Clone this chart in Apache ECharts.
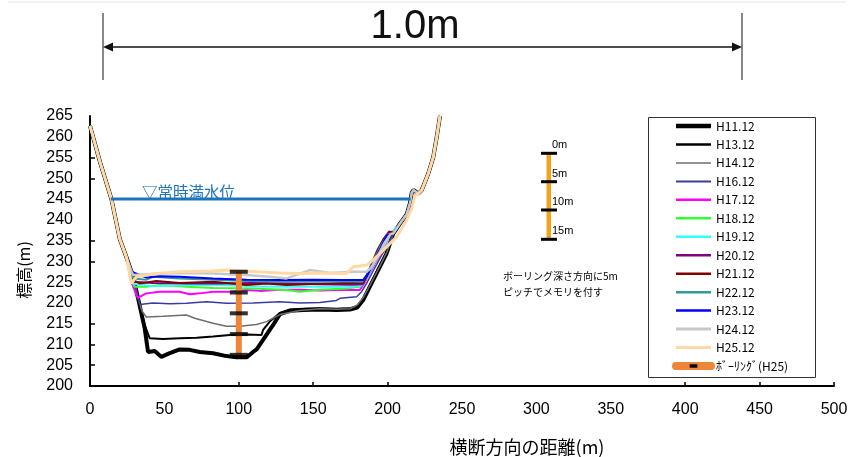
<!DOCTYPE html>
<html>
<head>
<meta charset="utf-8">
<script src="https://cdn.jsdelivr.net/npm/echarts@6/dist/echarts.min.js"></script>
<style>
  html, body { margin: 0; padding: 0; background: #fff; }
  #chart { width: 854px; height: 457px; }
</style>
</head>
<body>
<div id="chart"></div>
<script>
// Cross-section survey: distance across the channel (m) vs. elevation (m)
const surveyNames = ['H11.12','H13.12','H14.12','H16.12','H17.12','H18.12','H19.12',
                     'H20.12','H21.12','H22.12','H23.12','H24.12','H25.12'];
const boringName = 'ﾎﾞｰﾘﾝｸﾞ(H25)';

const xTicks = [0, 50, 100, 150, 200, 250, 300, 350, 400, 450, 500];
const yTicks = [200, 205, 210, 215, 220, 225, 230, 235, 240, 245, 250, 255, 260, 265];

// upper left bank shared by all surveys
const leftBank = [[0, 262.6], [7, 253.6], [14.4, 245], [20, 235.4], [24.5, 231]];
// upper right bank shared by all surveys
const rightBank = [[203.8, 236.7], [208.3, 239.1], [212.8, 241.3], [215, 244], [216.2, 246.5],
                   [217.5, 247.2], [220.6, 246.3], [222.9, 247.1], [227.3, 251.1],
                   [230.7, 255.1], [233, 259.9], [235.2, 265]];

// river bed of each survey
const bedH11 = [[29, 226.3], [32.3, 221.1], [36.8, 213.8], [39, 208.2], [43.5, 208.4], [48, 207],
  [53.6, 207.9], [60.3, 208.8], [67, 208.7], [73.8, 208.2], [82.7, 207.9], [91.7, 207.2],
  [98.5, 206.9], [105.2, 206.9], [109.6, 208.2], [112, 208.8], [116.3, 211.1], [120.8, 213.5],
  [123.1, 214.7], [127.6, 217.3], [134.3, 218.1], [143.2, 218.3], [154.5, 218.4], [165.7, 218.3],
  [174.6, 218.4], [179.6, 218.9], [183.6, 220.7], [188.1, 223.9], [194.8, 228.7], [199.3, 231.9]];
const bedH13 = [[29, 226.3], [32.3, 221.1], [36.8, 214.6], [40.1, 211.5], [49.1, 211.3], [60.3, 211.5],
  [71.6, 211.6], [82.7, 211.9], [94, 212.3], [105.2, 212.4], [115.3, 212.3], [116.3, 213.5],
  [120.8, 215.5], [127.6, 217.6], [134.3, 218.4], [143.2, 218.6], [154.5, 218.7], [165.7, 218.6],
  [174.6, 218.7], [179.6, 219.2], [183.6, 221], [188.1, 224.2], [194.8, 229], [199.3, 232.1]];
const bedH14 = [[29.5, 226], [32.3, 221.1], [35, 218], [37.9, 216.6], [49.1, 216.8], [64.8, 217.1],
  [70.4, 216.3], [82.7, 215.1], [91.7, 214.4], [100.7, 214.4], [111.9, 214.8], [118.6, 215.5],
  [127.6, 217.2], [141, 218.2], [154.5, 218.6], [165.7, 218.5], [174.6, 218.6], [179.6, 219.5],
  [184, 221.5], [188.5, 224.5], [195, 229], [199.5, 232.2]];
const bedH16 = [[30, 224.5], [33.4, 219.6], [42.4, 220], [53.6, 219.8], [64.8, 219.9], [78.3, 220.3],
  [91.7, 219.9], [109.6, 220], [127.6, 220.3], [141, 220], [154.5, 220.1], [165.7, 220.6],
  [168, 221.1], [179.2, 221.5], [182.5, 222.7], [185.9, 224.7], [190, 227.5], [196, 231.5],
  [199.5, 233.5]];
const bedH17 = [[27.8, 225], [30, 223], [32, 221.2], [37.9, 222.3], [46.9, 222.7], [53.6, 222.7],
  [60.3, 222.7], [67, 222.1], [73.8, 222.3], [82.7, 222.7], [94, 222.7], [105.2, 223.1],
  [114.1, 222.9], [127.6, 223.2], [141, 223.2], [154.5, 223], [165.7, 223.1], [181.3, 223.1],
  [184, 224.5], [188, 227.2], [193, 230.5], [198.5, 234], [201.5, 236.6]];
const bedH18 = [[28, 225.5], [30, 223.9], [37.9, 223.9], [46.9, 224.3], [64.8, 223.9], [82.7, 223.6],
  [109.6, 223.5], [132.1, 223.1], [141, 222.7], [154.5, 223.2], [172.4, 223.5], [181.3, 223.9],
  [185, 225.5], [189, 228.3], [194, 231.5], [199, 234.8], [202, 236.8]];
const bedH19 = [[28, 226], [29, 224.7], [42.4, 224], [64.8, 224.3], [87.2, 224.3], [109.6, 224],
  [132.1, 223.9], [154.5, 223.9], [176, 223.9], [182.5, 224.2], [186, 226], [190, 229],
  [195, 232], [200, 235.3], [202.5, 236.9]];
const bedH20 = [[28, 226.5], [29, 225.1], [42.4, 224.8], [64.8, 224.7], [87.2, 224.7], [109.6, 224.8],
  [132.1, 224.7], [154.5, 224.5], [176, 224.4], [183, 224.5], [186, 226.3], [190, 229.5],
  [195, 233], [199.5, 236], [202.5, 237.2]];
const bedH21 = [[28, 226.8], [30, 225.3], [33.4, 224.7], [44.6, 225.3], [60.3, 224.8], [82.7, 225.1],
  [91.7, 224.8], [105.2, 224.3], [118.6, 224.7], [132.1, 224.3], [154.5, 224.6], [170, 224.8],
  [183.6, 224.8], [186, 226.5], [189, 229.2], [193, 232.6], [197.1, 235.3], [201, 237.2]];
const bedH22 = [[28, 227], [29, 225.9], [37.9, 225.6], [42.4, 226.3], [60.3, 225.9], [82.7, 225.6],
  [105.2, 225.3], [127.6, 225.1], [150, 225.1], [170, 225.2], [183, 225.1], [186, 226.8],
  [190, 229.8], [195, 233.5], [200, 236.5]];
const bedH23 = [[28, 227.5], [29, 227.1], [37.9, 226.1], [46.9, 226.4], [60.3, 226.3], [82.7, 225.9],
  [105.2, 225.6], [127.6, 225.5], [150, 225.6], [170, 225.5], [183.6, 225.5], [187, 227.1],
  [190, 229.5], [195, 233], [199.5, 236.3]];
const bedH24 = [[28, 227.5], [29, 226.7], [37.9, 226.9], [60.3, 227.2], [82.7, 227.1], [105.2, 226.7],
  [120.8, 226.3], [132.1, 225.9], [147.8, 227.9], [161.2, 227.2], [176.9, 227.5], [185.9, 227.5],
  [189, 228.5], [193, 231], [198, 234.5], [202, 236.6]];
const bedH25 = [[27.8, 224.7], [31.2, 226.3], [44.6, 227.1], [60.3, 227.5], [82.7, 227.7], [91.7, 227.9],
  [105.2, 227.6], [127.6, 227.2], [141, 227.1], [154.5, 227.2], [172.4, 227.1], [176.9, 228.7],
  [185.9, 229.1], [190.3, 230.3], [197.1, 232.7], [206.1, 235.9], [212.8, 239.9], [216.1, 242.7],
  [218.4, 245.9], [220.6, 246.3], [222.9, 247.1], [227.3, 251.1], [230.7, 255.1], [233, 259.9],
  [235.2, 265]];

// boring log at 100 m, graduated every 5 m of depth
const boringX = [100, 100, 100, 100, 100];
const boringZ = [227.5, 222.5, 217.5, 212.5, 207.5];

// normal full water level
const waterX = [14, 215.5];
const waterZ = [245, 245];

const surveyBeds = [bedH11, bedH13, bedH14, bedH16, bedH17, bedH18, bedH19,
                    bedH20, bedH21, bedH22, bedH23, bedH24, bedH25];
const surveyColors = ['#000000', '#000000', '#6e6e6e', '#3b3b9e', '#ff00ff', '#33ff33', '#33ffff',
                      '#800080', '#800000', '#339999', '#0000ff', '#c8c8c8', '#ffd9a3'];
const surveyWidths = [4, 2, 1.5, 1.5, 2, 2, 2, 2, 2, 2, 2, 2.5, 3];
const legendWidths = [4.5, 2.5, 1.5, 2, 2.5, 2.5, 2.5, 2.5, 2.5, 2.5, 2.5, 3, 3];

const series = surveyNames.map((name, i) => ({
  name: name,
  type: 'line',
  symbol: 'none',
  silent: true,
  data: i === 12 ? leftBank.concat(surveyBeds[i]) : leftBank.concat(surveyBeds[i], rightBank),
  lineStyle: { color: surveyColors[i], width: surveyWidths[i] },
  itemStyle: { color: surveyColors[i] },
  z: 2 + i
}));

series.push({
  name: 'water',
  type: 'line',
  symbol: 'none',
  silent: true,
  data: waterX.map((x, i) => [x, waterZ[i]]),
  lineStyle: { color: '#1c74bb', width: 3 },
  z: 20
});

// boring core (orange); its symbol is a short dash used by the legend key
const boringPoints = boringX.map((x, i) => [x, boringZ[i]]);
series.push({
  name: boringName,
  type: 'line',
  silent: true,
  symbol: 'path://M0,0 M1,3.2 L9,3.2 L9,6.8 L1,6.8 Z M10,10',
  showSymbol: false,
  data: boringPoints,
  lineStyle: { color: '#ef8537', width: 6 },
  itemStyle: { color: '#000000' },
  z: 30
});
// 5 m graduation marks on the boring core
series.push({
  name: 'boringMarks',
  type: 'scatter',
  silent: true,
  symbol: 'rect',
  symbolSize: [18, 4],
  data: boringPoints,
  itemStyle: { color: '#000000' },
  z: 31
});

const chart = echarts.init(document.getElementById('chart'), null, { renderer: 'canvas' });

const numFont = "'Liberation Sans', 'Noto Sans', sans-serif";
const jpFont = "'Noto Sans CJK JP', 'Liberation Sans', sans-serif";

const legendData = surveyNames.map((n, i) => ({
  name: n, itemStyle: { opacity: 0 }, lineStyle: { width: legendWidths[i] }
}));
legendData.push({ name: boringName, lineStyle: { width: 8, cap: 'round' } });

chart.setOption({
  animation: false,
  backgroundColor: '#ffffff',
  grid: { left: 90, right: 20, top: 116, bottom: 71, containLabel: false, outerBoundsMode: 'none' },
  xAxis: {
    type: 'value', min: 0, max: 500, interval: 50,
    axisLine: { lineStyle: { color: '#000', width: 2 } },
    axisTick: { inside: true, length: 4, customValues: [100, 150, 200, 400, 450, 500],
                lineStyle: { color: '#000', width: 1.5 } },
    axisLabel: { margin: 16, color: '#000', fontSize: 16, fontFamily: numFont,
                 customValues: xTicks },
    splitLine: { show: false }
  },
  yAxis: {
    type: 'value', min: 200, max: 265, interval: 5,
    axisLine: { show: true, lineStyle: { color: '#000', width: 2 } },
    axisTick: { show: true, inside: true, length: 5, customValues: [205, 210, 215, 230, 235, 250, 255],
                lineStyle: { color: '#000', width: 1.5 } },
    axisLabel: { margin: 17, color: '#000', fontSize: 16, fontFamily: numFont,
                 customValues: yTicks },
    splitLine: { show: false }
  },
  legend: {
    orient: 'vertical',
    left: 672, top: 120,
    padding: 0,
    itemWidth: 35, itemHeight: 12, itemGap: 6.46,
    selectedMode: false,
    textStyle: { color: '#000', fontSize: 12, lineHeight: 12, fontFamily: jpFont },
    data: legendData
  },
  graphic: [
    // faint rule at the very top
    { type: 'line', shape: { x1: 8, y1: 2, x2: 846, y2: 2 },
      style: { stroke: '#e4e4e4', lineWidth: 1 }, silent: true },
    // 1.0m dimension line
    { type: 'line', shape: { x1: 103, y1: 13, x2: 103, y2: 80 }, style: { stroke: '#111', lineWidth: 1 } },
    { type: 'line', shape: { x1: 742, y1: 13, x2: 742, y2: 80 }, style: { stroke: '#111', lineWidth: 1 } },
    { type: 'line', shape: { x1: 106, y1: 47, x2: 739, y2: 47 }, style: { stroke: '#111', lineWidth: 1.5 } },
    { type: 'polygon', shape: { points: [[103, 47], [113, 42.5], [113, 51.5]] }, style: { fill: '#111' } },
    { type: 'polygon', shape: { points: [[742, 47], [732, 42.5], [732, 51.5]] }, style: { fill: '#111' } },
    { type: 'text', x: 415, y: 27,
      style: { text: '1.0m', fontSize: 40, fontFamily: "'Liberation Sans Narrow', 'Liberation Sans', sans-serif",
               fill: '#111', align: 'center', verticalAlign: 'middle' } },
    // water level caption
    { type: 'text', x: 142, y: 192,
      style: { text: '▽常時満水位', fontSize: 15.5, fontFamily: jpFont, fill: '#1c74bb',
               align: 'left', verticalAlign: 'middle' } },
    // depth scale for the boring log
    { type: 'rect', shape: { x: 546.5, y: 153, width: 4.5, height: 86 }, style: { fill: '#f5a21a' } },
    { type: 'rect', shape: { x: 541, y: 151.8, width: 16, height: 3 }, style: { fill: '#000' } },
    { type: 'rect', shape: { x: 541, y: 180.2, width: 16, height: 3 }, style: { fill: '#000' } },
    { type: 'rect', shape: { x: 541, y: 208.5, width: 16, height: 3 }, style: { fill: '#000' } },
    { type: 'rect', shape: { x: 541, y: 237.8, width: 16, height: 3 }, style: { fill: '#000' } },
    { type: 'text', x: 552, y: 145, style: { text: '0m', fontSize: 11, fontFamily: numFont, fill: '#000', verticalAlign: 'middle' } },
    { type: 'text', x: 552, y: 173.5, style: { text: '5m', fontSize: 11, fontFamily: numFont, fill: '#000', verticalAlign: 'middle' } },
    { type: 'text', x: 552, y: 202, style: { text: '10m', fontSize: 11, fontFamily: numFont, fill: '#000', verticalAlign: 'middle' } },
    { type: 'text', x: 552, y: 231, style: { text: '15m', fontSize: 11, fontFamily: numFont, fill: '#000', verticalAlign: 'middle' } },
    { type: 'text', x: 503, y: 276,
      style: { text: 'ボーリング深さ方向に5m', fontSize: 10, fontFamily: jpFont, fill: '#000', verticalAlign: 'middle' } },
    { type: 'text', x: 503, y: 292.5,
      style: { text: 'ピッチでメモリを付す', fontSize: 10, fontFamily: jpFont, fill: '#000', verticalAlign: 'middle' } },
    // legend frame
    { type: 'rect', shape: { x: 648.5, y: 117.5, width: 167, height: 260 },
      style: { fill: 'none', stroke: '#333', lineWidth: 1 }, z: -1 },
    // axis names
    { type: 'text', x: 24, y: 270, rotation: Math.PI / 2,
      style: { text: '標高(m)', fontSize: 16, fontFamily: jpFont, fill: '#000',
               align: 'center', verticalAlign: 'middle' } },
    { type: 'text', x: 527, y: 447,
      style: { text: '横断方向の距離(m)', fontSize: 18, fontFamily: jpFont, fill: '#000',
               align: 'center', verticalAlign: 'middle' } }
  ],
  series: series
});
</script>
</body>
</html>
